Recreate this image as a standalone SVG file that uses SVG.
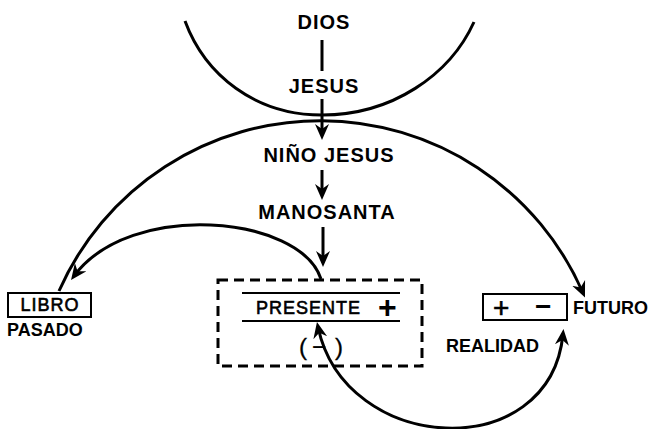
<svg xmlns="http://www.w3.org/2000/svg" width="658" height="429" viewBox="0 0 658 429">
<defs>
<marker id="ah" viewBox="0 -8 17 16" refX="11" refY="0" markerWidth="17" markerHeight="16" markerUnits="userSpaceOnUse" orient="auto-start-reverse">
<path d="M16,0 L0,-7 L5,0 L0,7 Z" fill="#000"/>
</marker>
</defs>
<style>
.c{fill:none;stroke:#000;stroke-width:3}
.t{font-family:"Liberation Sans",Arial,sans-serif;font-weight:bold;fill:#000}
.m{font-family:"Liberation Sans",Arial,sans-serif;font-weight:normal;fill:#000;stroke:#000;stroke-width:0.6}
.big{font-size:20px;letter-spacing:1px;text-anchor:middle}
.lab{font-size:18px}
.box{fill:none;stroke:#000;stroke-width:2}
</style>
<rect width="658" height="429" fill="#fff"/>
<g id="connectors">
<path class="c" d="M185,21 C205,75 255,115 322,115 C392,115 450,75 474,22"/>
<path class="c" d="M59,291 A286,286 0 0 1 583,293" marker-end="url(#ah)"/>
<path class="c" d="M321,279 C300,215 130,200 74,276" marker-end="url(#ah)"/>
<path class="c" d="M318,327 C345,455 550,466 563,334" marker-start="url(#ah)" marker-end="url(#ah)"/>
<line class="c" x1="322" y1="40" x2="322" y2="71"/>
<line class="c" x1="322" y1="99" x2="322" y2="135" marker-end="url(#ah)"/>
<line class="c" x1="322" y1="170" x2="322" y2="195" marker-end="url(#ah)"/>
<line class="c" x1="323" y1="227" x2="323" y2="262" marker-end="url(#ah)"/>
</g>
<g id="dios"><text class="t big" x="324" y="29">DIOS</text></g>
<g id="jesus"><text class="t big" x="324" y="93">JESUS</text></g>
<g id="nino-jesus"><text class="t big" x="329" y="162">NIÑO JESUS</text></g>
<g id="manosanta"><text class="t big" x="327" y="219">MANOSANTA</text></g>
<g id="presente">
<rect x="218" y="280" width="204" height="86" fill="none" stroke="#000" stroke-width="3" stroke-dasharray="10,6"/>
<line x1="242" y1="293" x2="400" y2="293" stroke="#000" stroke-width="2"/>
<line x1="242" y1="321" x2="400" y2="321" stroke="#000" stroke-width="2"/>
<text class="m" x="256" y="314" font-size="18" letter-spacing="1">PRESENTE</text>
<text class="t" x="378" y="318" font-size="32">+</text>
<text class="m" x="300" y="355" font-size="24" style="stroke-width:0.3"><tspan x="299">(</tspan><tspan x="312">−</tspan><tspan x="335">)</tspan></text>
</g>
<g id="libro">
<rect class="box" x="8" y="293" width="83" height="24"/>
<text class="m lab" x="50" y="311" text-anchor="middle" letter-spacing="1">LIBRO</text>
<text class="t lab" x="7" y="336">PASADO</text>
</g>
<g id="futuro">
<rect class="box" x="483" y="294" width="84" height="26"/>
<text class="m" x="493" y="317" font-size="28">+</text>
<text class="t" x="535" y="316" font-size="28">−</text>
<text class="t lab" x="573" y="314">FUTURO</text>
<text class="t lab" x="446" y="352">REALIDAD</text>
</g>
</svg>
